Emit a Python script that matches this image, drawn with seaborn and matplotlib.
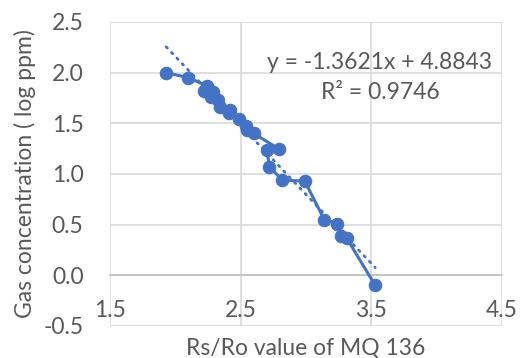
import numpy as np
import pandas as pd
import matplotlib
matplotlib.use("Agg")
import matplotlib.pyplot as plt
import seaborn as sns

# Data (Rs/Ro vs log ppm)
rs_ro = [1.93, 2.10, 2.24, 2.22, 2.29, 2.27, 2.33, 2.34, 2.42, 2.41, 2.49, 2.49,
         2.54, 2.55, 2.60, 2.79, 2.70, 2.72, 2.82, 2.99, 3.14, 3.24, 3.27, 3.31, 3.53]
log_ppm = [2.00, 1.95, 1.87, 1.82, 1.81, 1.76, 1.73, 1.66, 1.63, 1.60, 1.57, 1.51,
           1.47, 1.43, 1.40, 1.25, 1.24, 1.07, 0.94, 0.93, 0.55, 0.51, 0.39, 0.37, -0.10]

slope = -1.3621
intercept = 4.8843
r_squared = 0.9746

x_ticks = [1.5, 2.5, 3.5, 4.5]
y_ticks = [-0.5, 0.0, 0.5, 1.0, 1.5, 2.0, 2.5]

sns.set_style("white")
plt.rcParams['font.family'] = ['Lato', 'DejaVu Sans']

blue = "#4472C4"
grey_txt = "#595959"
fs = 16.5

df = pd.DataFrame({"x": rs_ro, "y": log_ppm})
trend_x = [min(rs_ro), max(rs_ro)]
trend = pd.DataFrame({"x": trend_x, "y": [slope * v + intercept for v in trend_x]})

fig = plt.figure(figsize=(5.23, 3.58), dpi=100)
ax = fig.add_axes([110 / 523, 1 - 326 / 358, (502 - 110) / 523, (326 - 22) / 358])

sns.lineplot(data=trend, x="x", y="y", ax=ax, color=blue, linewidth=2.0,
             linestyle=(0, (0.6, 2.2)), dash_capstyle="round", zorder=3)
sns.lineplot(data=df, x="x", y="y", ax=ax, sort=False, color=blue, linewidth=2.2,
             marker="o", markersize=9, markeredgecolor=blue, markerfacecolor=blue, zorder=4)

ax.set_xlim(1.5, 4.5)
ax.set_ylim(-0.5, 2.5)
ax.set_xticks(x_ticks)
ax.set_yticks(y_ticks)
ax.set_xticklabels([f"{v:.1f}" for v in x_ticks])
ax.set_yticklabels([f"{v:.1f}" for v in y_ticks])

ax.grid(True, color="#D9D9D9", linewidth=1.2)
ax.set_axisbelow(True)
for s in ["top", "right", "left"]:
    ax.spines[s].set_visible(False)
ax.spines["bottom"].set_position(("data", 0))
ax.spines["bottom"].set_color("#BFBFBF")
ax.spines["bottom"].set_linewidth(1.2)
ax.spines["bottom"].set_zorder(2)

ax.tick_params(axis="x", length=0, pad=18, labelsize=fs, labelcolor=grey_txt)
ax.tick_params(axis="y", length=0, pad=19, labelsize=fs, labelcolor=grey_txt)

ax.set_xlabel("Rs/Ro value of MQ 136", fontsize=fs, color=grey_txt, va="center")
ax.set_ylabel("Gas concentration ( log ppm)", fontsize=fs, color=grey_txt, va="center")
ax.xaxis.set_label_coords(0.5, -0.072)
ax.yaxis.set_label_coords(-(110 - 25) / 392, 0.5)

ax.text(3.566, 2.103, f"y = {slope:.4f}x + {intercept:.4f}", fontsize=fs,
        color=grey_txt, ha="center", va="center")
ax.text(3.566, 1.808, f"R² = {r_squared:.4f}", fontsize=fs,
        color=grey_txt, ha="center", va="center")

fig.savefig("out.png", dpi=100)
